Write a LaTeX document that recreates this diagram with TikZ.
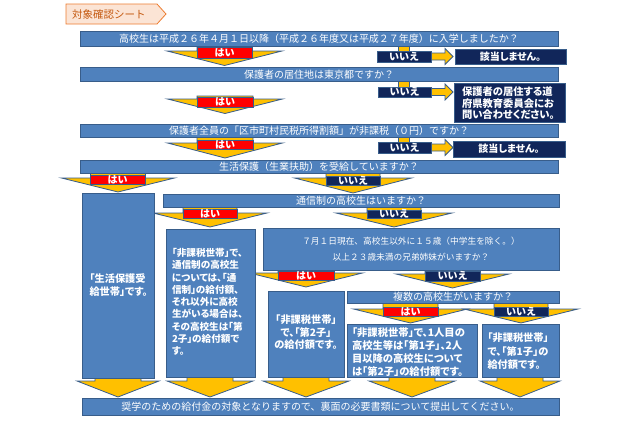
\documentclass[tikz,border=0pt]{standalone}
\usepackage{fontspec}
\setmainfont{Noto Sans CJK JP}
\newfontfamily\pj[RawFeature=+palt]{Noto Sans CJK JP}
\usetikzlibrary{fit}
\definecolor{barblue}{HTML}{4F81BD}
\definecolor{bdr}{HTML}{385D8A}
\definecolor{navy}{HTML}{11265A}
\definecolor{ylw}{HTML}{FFC000}
\definecolor{tabfill}{HTML}{FBE4D5}
\definecolor{taborange}{HTML}{ED7D31}
\definecolor{tabtext}{HTML}{C55A11}
\tikzset{
  base/.style={inner sep=0pt, outer sep=0pt, line width=0.8pt},
  bar/.style={base, draw=bdr, fill=barblue},
  nbox/.style={base, draw=bdr, fill=navy, line width=1pt},
  yes/.style={base, draw=bdr, fill=red},
  no/.style={base, draw=bdr, fill=navy},
  txt/.style={inner sep=0pt, outer sep=0pt, text=white},
  bartxt/.style={txt, anchor=base, font=\fontsize{10}{12}\selectfont},
  lbltxt/.style={txt, anchor=base, font=\bfseries\fontsize{10}{10}\selectfont},
  boxtxt/.style={txt, anchor=base west, font=\pj\bfseries\fontsize{9.6}{12.3}\selectfont},
  arr/.style={draw=bdr, fill=ylw, line width=0.8pt, line join=miter},
  tab/.style={draw=taborange, fill=tabfill, line width=0.8pt},
}
% cx, top, headtop, tip, shaft half width, head half width
\newcommand\dnarr[6]{%
  \filldraw[arr] ({#1-#5},#2) -- ({#1+#5},#2) -- ({#1+#5},#3) -- ({#1+#6},#3)
    -- (#1,#4) -- ({#1-#6},#3) -- ({#1-#5},#3) -- cycle;}
% x start, centre y
\newcommand\rtarr[2]{%
  \filldraw[arr] (#1,{#2-3.5}) -- (445,{#2-3.5}) -- (445,{#2-8}) -- (453,#2)
    -- (445,{#2+8}) -- (445,{#2+3.5}) -- (#1,{#2+3.5}) -- cycle;}
\newcommand\lines[2]{\parbox[t]{#1}{\raggedright #2}}
\newcommand\clines[2]{\parbox[t]{#1}{\centering #2}}
\begin{document}
\begin{tikzpicture}[x=1pt,y=-1pt]
\fill[white] (0,0) rectangle (640,426);
\useasboundingbox (0,0) rectangle (640,426);

% title tab
\filldraw[tab] (66,4) -- (157,4) -- (166,14) -- (157,24) -- (66,24) -- cycle;
\node[txt, anchor=base west, text=tabtext, font=\fontsize{10.5}{12}\selectfont] (title) at (72,18.4) {対象確認シート};

% arrows (drawn first)
\dnarr{224.5}{44}{51}{65.5}{27.5}{57.5}
\filldraw[arr] (398,44) rectangle (409,52);
\rtarr{431}{56.5}
\dnarr{225}{96}{99}{113.5}{28}{57.5}
\filldraw[arr] (398,79) rectangle (409,88);
\rtarr{431}{92}
\dnarr{225}{135}{143}{158}{28}{57.5}
\filldraw[arr] (398,135) rectangle (409,143);
\rtarr{431}{147.5}
\dnarr{118}{171}{178}{192}{27.5}{56.5}
\dnarr{353}{171}{178}{193}{27}{58.5}
\dnarr{210}{205}{213}{227}{27}{57}
\dnarr{394}{205}{213}{227}{27}{58}
\dnarr{306}{268}{273}{287}{28}{56.5}
\dnarr{452.5}{268}{274}{288}{27.5}{56.5}
\dnarr{410.5}{301}{309}{323}{27.5}{57}
\dnarr{521}{301}{309}{323}{27}{57}
\dnarr{118}{375}{381}{397}{23}{41}
\dnarr{210}{375}{381}{397}{23}{43}
\dnarr{306}{375}{381}{397}{23}{43}
\dnarr{412}{375}{381}{397}{23}{43}
\dnarr{520}{375}{381}{397}{23}{40}

% question bars
\node[bar, fit={(80,31)(558,46)}] (q1) {};
\node[bar, fit={(80,67)(558,81)}] (q2) {};
\node[bar, fit={(80,124)(558,137)}] (q3) {};
\node[bar, fit={(80,160)(558,173)}] (q4) {};
\node[bar, fit={(163,194)(559,207)}] (q5) {};
\node[bar, fit={(263,228)(559,270)}] (q6) {};
\node[bar, fit={(347,291)(559,303)}] (q7) {};
\node[bar, fit={(82,398)(559,415)}] (end) {};
\node[bartxt] (q1t) at (319,42.3) {高校生は平成２６年４月１日以降（平成２６年度又は平成２７年度）に入学しましたか？};
\node[bartxt] (q2t) at (319,78.2) {保護者の居住地は東京都ですか？};
\node[bartxt] (q3t) at (319,134.3) {保護者全員の「区市町村民税所得割額」が非課税（０円）ですか？};
\node[bartxt] (q4t) at (319,170.3) {生活保護（生業扶助）を受給していますか？};
\node[bartxt] (q5t) at (361,204.3) {通信制の高校生はいますか？};
\node[bartxt, font=\fontsize{8.7}{16}\selectfont] (q6t) at (411,244.3) {\clines{290pt}{７月１日現在、高校生以外に１５歳（中学生を除く。）\\以上２３歳未満の兄弟姉妹がいますか？}};
\node[bartxt] (q7t) at (453,300.8) {複数の高校生がいますか？};
\node[bartxt] (endt) at (320.5,410.3) {奨学のための給付金の対象となりますので、裏面の必要書類について提出してください。};

% result boxes
\node[bar, fit={(82,193)(154,378)}] (r1) {};
\node[bar, fit={(166,229)(255,377)}] (r2) {};
\node[bar, fit={(268,291)(344,377)}] (r4) {};
\node[bar, fit={(347,324)(477,377)}] (r5) {};
\node[bar, fit={(482,324)(559,377)}] (r6) {};
\node[boxtxt, font=\pj\bfseries\fontsize{10.2}{13}\selectfont] (r1t) at (89.5,282.9) {\lines{64pt}{「生活保護受\\給世帯」です。}};
\node[boxtxt] (r2t) at (172,256.4) {\lines{84pt}{「非課税世帯」で、\\通信制の高校生\\については、「通\\信制」の給付額、\\それ以外に高校\\生がいる場合は、\\その高校生は「第\\2子」の給付額で\\す。}};
\node[boxtxt, anchor=base, font=\pj\bfseries\fontsize{10.2}{12.5}\selectfont] (r4t) at (306,323.9) {\clines{74pt}{「非課税世帯」\\で、「第2子」\\の給付額です。}};
\node[boxtxt, font=\pj\bfseries\fontsize{10.3}{13}\selectfont] (r5t) at (352,336) {\lines{124pt}{「非課税世帯」で、1人目の\\高校生等は「第1子」、2人\\目以降の高校生について\\は「第2子」の給付額です。}};
\node[boxtxt, font=\pj\bfseries\fontsize{10.2}{13.5}\selectfont] (r6t) at (487.5,341.9) {\lines{71pt}{「非課税世帯」\\で、「第1子」の\\給付額です。}};

% navy boxes
\node[nbox, fit={(455,49)(566,64)}] (n1) {};
\node[nbox, fit={(454,83)(565,122)}] (n2) {};
\node[nbox, fit={(453,141)(565,157)}] (n3) {};
\node[lbltxt, font=\pj\bfseries\fontsize{10}{10}\selectfont] (n1t) at (510.5,60.3) {該当しません。};
\node[boxtxt, font=\pj\bfseries\fontsize{10.3}{11.5}\selectfont] (n2t) at (462,95.9) {\lines{104pt}{保護者の居住する道\\府県教育委員会にお\\問い合わせください。}};
\node[lbltxt, font=\pj\bfseries\fontsize{10}{10}\selectfont] (n3t) at (509,152.8) {該当しません。};

% yes / no labels
\node[yes, fit={(197,47)(252,58)}] (h1) {};
\node[no,  fit={(377,51)(431,62)}] (i1) {};
\node[yes, fit={(197,97)(253,107)}] (h2) {};
\node[no,  fit={(378,87)(431,97)}] (i2) {};
\node[yes, fit={(197,140)(253,149)}] (h3) {};
\node[no,  fit={(378,142)(431,153)}] (i3) {};
\node[yes, fit={(90,175)(145,184)}] (h4) {};
\node[no,  fit={(326,176)(380,185)}] (i4) {};
\node[yes, fit={(183,209)(237,218)}] (h5) {};
\node[no,  fit={(367,210)(421,218)}] (i5) {};
\node[yes, fit={(278,271)(334,280)}] (h6) {};
\node[no,  fit={(425,271)(480,281)}] (i6) {};
\node[yes, fit={(383,307)(438,316)}] (h7) {};
\node[no,  fit={(494,307)(548,316)}] (i7) {};
\node[lbltxt] (h1t) at (224.5,56.3) {はい};
\node[lbltxt] (i1t) at (404,60.3) {いいえ};
\node[lbltxt] (h2t) at (225,105.8) {はい};
\node[lbltxt] (i2t) at (404.5,95.8) {いいえ};
\node[lbltxt] (h3t) at (225,148.3) {はい};
\node[lbltxt] (i3t) at (404.5,151.3) {いいえ};
\node[lbltxt] (h4t) at (117.5,183.3) {はい};
\node[lbltxt] (i4t) at (353,184.3) {いいえ};
\node[lbltxt] (h5t) at (210,217.3) {はい};
\node[lbltxt] (i5t) at (394,217.8) {いいえ};
\node[lbltxt] (h6t) at (306,279.3) {はい};
\node[lbltxt] (i6t) at (452.5,279.8) {いいえ};
\node[lbltxt] (h7t) at (410.5,315.3) {はい};
\node[lbltxt] (i7t) at (521,315.3) {いいえ};
\end{tikzpicture}
\end{document}
